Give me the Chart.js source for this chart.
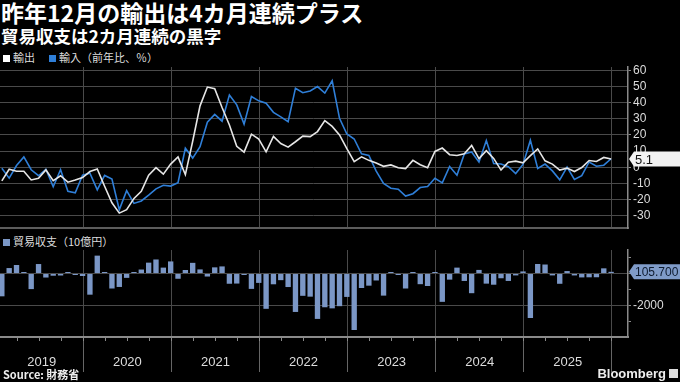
<!DOCTYPE html>
<html>
<head>
<meta charset="utf-8">
<script src="https://cdn.jsdelivr.net/npm/chart.js@4.4.1/dist/chart.umd.min.js"></script>
<style>
  body { margin: 0; background: #000; width: 680px; height: 382px; overflow: hidden; position: relative;
         font-family: "Noto Sans CJK JP", "Noto Sans", sans-serif; color: #fff; }
  #title { position: absolute; left: 1px; top: 0px; font-size: 23px; font-weight: 700; line-height: 25px; white-space: nowrap; }
  #sub { position: absolute; left: 1px; top: 26px; font-size: 17.5px; font-weight: 700; line-height: 19px; white-space: nowrap; }
  .leg { position: absolute; font-size: 11px; line-height: 12px; color: #ddd; white-space: nowrap; }
  .sq { display: inline-block; width: 7px; height: 7px; margin-right: 3px; }
  canvas { position: absolute; left: 0; }
  #src { position: absolute; left: 3px; top: 368px; font-size: 11px; font-weight: 700; color: #eee; line-height: 13px; }
  #bbg { position: absolute; right: 14px; top: 366px; font-family: "Liberation Sans", sans-serif; font-size: 13px; font-weight: 700; color: #eee; }
  #icon { position: absolute; right: 2px; top: 369px; width: 9px; height: 9px; background: #ddd; }
</style>
</head>
<body>
<div id="title">昨年12月の輸出は4カ月連続プラス</div>
<div id="sub">貿易収支は2カ月連続の黒字</div>
<div class="leg" style="left:3px;top:51px"><span class="sq" style="background:#fff"></span>輸出<span style="display:inline-block;width:14px"></span><span class="sq" style="background:#2f7fd8"></span>輸入（前年比、％）</div>
<div class="leg" style="left:3px;top:235px"><span class="sq" style="background:#7b97c6"></span>貿易収支（10億円）</div>
<canvas id="top" width="680" height="172" style="top:60px"></canvas>
<canvas id="bottom" width="680" height="143" style="top:232px"></canvas>
<div id="src">Source: 財務省</div>
<div id="bbg">Bloomberg</div>
<div id="icon"></div>
<script>
// Monthly data, Jan 2019 - Dec 2025
const years = ["2019", "2020", "2021", "2022", "2023", "2024", "2025"];
const yoyTicks = [-30, -20, -10, 0, 10, 20, 30, 40, 50, 60];
const balanceTicks = [-3000, -2000, -1000, 0, 1000];

// exports, % y/y
const exportsYoY = [
  -8.4, -1.2, -2.4, -2.4, -7.8, -6.7, -1.6, -8.2, -5.2, -9.2, -7.9, -6.3,
  -2.6, -1.0, -11.7, -21.9, -28.3, -26.2, -19.2, -14.8, -4.9, -0.2, -4.2, 2.0,
  6.4, -4.5, 16.1, 38.0, 49.6, 48.6, 37.0, 26.2, 13.0, 9.4, 20.5, 17.5,
  9.6, 19.1, 14.7, 12.5, 15.8, 19.3, 19.0, 22.1, 28.9, 25.3, 20.0, 11.5,
  3.5, 6.5, 4.3, 2.6, 0.6, 1.5, -0.3, -0.8, 4.3, 1.6, -0.2, 9.8,
  11.9, 7.8, 7.3, 8.3, 13.5, 5.4, 10.3, 5.5, -1.7, 3.1, 3.8, 2.8,
  7.2, 11.4, 4.0, 2.0, -1.7, -0.5, -2.6, -0.1, 4.2, 3.6, 6.1, 5.1
];

// imports, % y/y
const importsYoY = [
  -0.6, -6.7, 1.1, 6.4, -1.5, -5.2, -1.2, -12.0, -1.5, -14.8, -15.7, -4.9,
  -3.6, -13.9, -5.0, -7.2, -26.2, -14.4, -22.3, -20.8, -17.2, -13.3, -11.1, -11.6,
  -9.5, 11.8, 5.7, 12.8, 27.9, 32.7, 28.5, 44.7, 38.6, 26.7, 43.8, 41.1,
  39.6, 34.0, 31.2, 28.2, 48.9, 46.1, 47.2, 49.9, 45.9, 53.5, 30.3, 20.6,
  17.5, 8.3, 7.3, -2.3, -9.9, -12.9, -13.5, -17.8, -16.3, -12.5, -11.9, -6.8,
  -9.6, 0.5, -4.9, 8.3, 9.5, 3.2, 16.6, 2.3, 2.1, 0.4, -3.8, 1.8,
  16.7, -0.7, 2.0, -2.2, -7.7, 0.2, -7.5, -5.2, 3.3, 0.7, 1.3, 5.3
];

// trade balance, billion yen
const tradeBalance = [
  -1415, 339, 528, 60, -967, 589, -249, -136, -123, 17, -82, -154,
  -1313, 1110, 5, -930, -834, -269, 11, 248, 675, 872, 367, 751,
  -325, 217, 663, 255, -187, 383, 441, -635, -623, -67, -954, -582,
  -2191, -668, -412, -839, -2385, -1384, -1436, -2817, -2094, -2162, -2027, -1452,
  -3507, -898, -754, -432, -1372, 43, -78, -930, 62, -662, -776, 62,
  -1758, -379, 366, -462, -1221, 224, -628, -695, -294, -461, -117, 130,
  -2759, 590, 559, -116, -637, 153, -118, -242, -235, -232, 322, 105.7
];

const X_MIN = -0.25, X_MAX = 85.3;
const GRID = "#4a4a4a";
const AXIS = "#8a8a8a";
const LABEL = "#dcdcdc";

// year boundaries (points sit at month end) and label positions
const yearEdges = years.map((y, k) => 12 * (k + 1) - 0.9);
const yearMids = years.map((y, k) => (Math.max(12 * k - 0.9, X_MIN) + 12 * (k + 1) - 0.9) / 2);
const quarterTicks = [];
for (let q = 2.1; q < X_MAX; q += 3) quarterTicks.push(q);
const isEdge = v => yearEdges.some(e => Math.abs(e - v) < 0.01);

const xy = arr => arr.map((v, i) => ({ x: i, y: v }));

function tagPlugin(id, value, text, fill, color, font) {
  return {
    id: id,
    afterDraw(chart) {
      const ctx = chart.ctx;
      const y = chart.scales.y.getPixelForValue(value);
      const x0 = chart.chartArea.right + 1;
      const h = 15;
      ctx.save();
      ctx.fillStyle = fill;
      ctx.beginPath();
      ctx.moveTo(x0, y);
      ctx.lineTo(x0 + 5, y - h / 2);
      ctx.lineTo(chart.width, y - h / 2);
      ctx.lineTo(chart.width, y + h / 2);
      ctx.lineTo(x0 + 5, y + h / 2);
      ctx.closePath();
      ctx.fill();
      ctx.fillStyle = color;
      ctx.font = font;
      ctx.textBaseline = "middle";
      ctx.fillText(text, x0 + 6, y + 1);
      ctx.restore();
    }
  };
}

const tickFont = { family: "Liberation Sans", size: 12 };

// top panel: exports / imports y/y
new Chart(document.getElementById("top"), {
  type: "line",
  data: {
    datasets: [
      { label: "輸出", data: xy(exportsYoY), borderColor: "#e6e6e6", borderWidth: 1.6, pointRadius: 0, order: 1 },
      { label: "輸入", data: xy(importsYoY), borderColor: "#2f7fd8", borderWidth: 1.6, pointRadius: 0, order: 2 }
    ]
  },
  options: {
    responsive: false,
    animation: false,
    devicePixelRatio: 1,
    layout: { padding: { top: 7, bottom: 4, left: 0, right: 0 } },
    plugins: { legend: { display: false }, tooltip: { enabled: false } },
    scales: {
      x: {
        type: "linear", min: X_MIN, max: X_MAX, position: "bottom", offset: false,
        afterBuildTicks: s => { s.ticks = yearEdges.map(v => ({ value: v })); },
        afterFit: s => { s.height = 0; s.paddingLeft = 0; s.paddingRight = 0; },
        ticks: { display: false },
        grid: { color: GRID, lineWidth: 1, drawTicks: false },
        border: { display: true, color: "#5c5c5c", width: 2 }
      },
      y: {
        position: "right", min: -37.5, max: 62,
        afterBuildTicks: s => { s.ticks = yoyTicks.map(v => ({ value: v })); },
        ticks: { autoSkip: false, color: LABEL, font: tickFont, padding: 2 },
        afterFit: s => { s.width = 52; s.paddingTop = 0; s.paddingBottom = 0; },
        grid: { color: GRID, lineWidth: 1, tickLength: 3,
                tickColor: c => (c.tick && c.tick.value % 20 === 0 ? AXIS : "transparent") },
        border: { display: true, color: AXIS, width: 1.5 }
      }
    }
  },
  plugins: [tagPlugin("tagTop", exportsYoY[exportsYoY.length - 1],
    String(exportsYoY[exportsYoY.length - 1]), "#f2f2f2", "#111", '13px "Liberation Sans"')]
});

// bottom panel: trade balance
const lastBal = tradeBalance[tradeBalance.length - 1];
new Chart(document.getElementById("bottom"), {
  type: "bar",
  data: {
    datasets: [
      { label: "貿易収支", data: xy(tradeBalance), backgroundColor: "#7b97c6",
        barPercentage: 0.73, categoryPercentage: 1, minBarLength: 1.5 }
    ]
  },
  options: {
    responsive: false,
    animation: false,
    devicePixelRatio: 1,
    layout: { padding: { top: 18, bottom: 0, left: 0, right: 0 } },
    plugins: { legend: { display: false }, tooltip: { enabled: false } },
    scales: {
      x: {
        type: "linear", min: X_MIN, max: X_MAX, position: "bottom", weight: 0, offset: false,
        afterBuildTicks: s => { s.ticks = quarterTicks.map(v => ({ value: v })); },
        afterFit: s => { s.height = 4; s.paddingLeft = 0; s.paddingRight = 0; },
        ticks: { display: false },
        grid: {
          offset: false, lineWidth: 1, tickLength: 4, tickColor: AXIS,
          color: c => (c.tick && isEdge(c.tick.value) ? GRID : "transparent")
        },
        border: { display: true, color: AXIS, width: 2 }
      },
      xYears: {
        type: "linear", min: X_MIN, max: X_MAX, position: "bottom", weight: 1, offset: false,
        afterBuildTicks: s => {
          s.ticks = yearEdges.concat(yearMids).sort((a, b) => a - b).map(v => ({ value: v }));
        },
        afterFit: s => { s.height = 34; s.paddingLeft = 0; s.paddingRight = 0; },
        ticks: {
          autoSkip: false, maxRotation: 0, color: LABEL, font: { family: "Liberation Sans", size: 13 }, padding: -17,
          callback: v => {
            const k = yearMids.findIndex(m => Math.abs(m - v) < 0.01);
            return k >= 0 ? years[k] : "";
          }
        },
        grid: {
          offset: false, drawOnChartArea: false, tickLength: 31, lineWidth: 1,
          tickColor: c => (c.tick && isEdge(c.tick.value) ? "#666" : "transparent")
        },
        border: { display: false }
      },
      y: {
        position: "right", min: -3940, max: 1460,
        afterBuildTicks: s => { s.ticks = balanceTicks.map(v => ({ value: v })); },
        ticks: {
          autoSkip: false, color: LABEL, font: tickFont, padding: 2,
          callback: v => (v !== 0 && v % 2000 === 0 ? String(v) : "")
        },
        afterFit: s => { s.width = 52; s.paddingTop = 0; s.paddingBottom = 0; },
        grid: {
          lineWidth: 1, tickLength: 3, tickColor: AXIS,
          color: c => (c.tick && c.tick.value % 2000 === 0 ? GRID : "transparent")
        },
        border: { display: true, color: AXIS, width: 1.5 }
      }
    }
  },
  plugins: [tagPlugin("tagBottom", lastBal, lastBal.toFixed(3), "#7f9bc8", "#0d1a2e",
    '12px "Liberation Sans Narrow", "Liberation Sans"')]
});
</script>
</body>
</html>
